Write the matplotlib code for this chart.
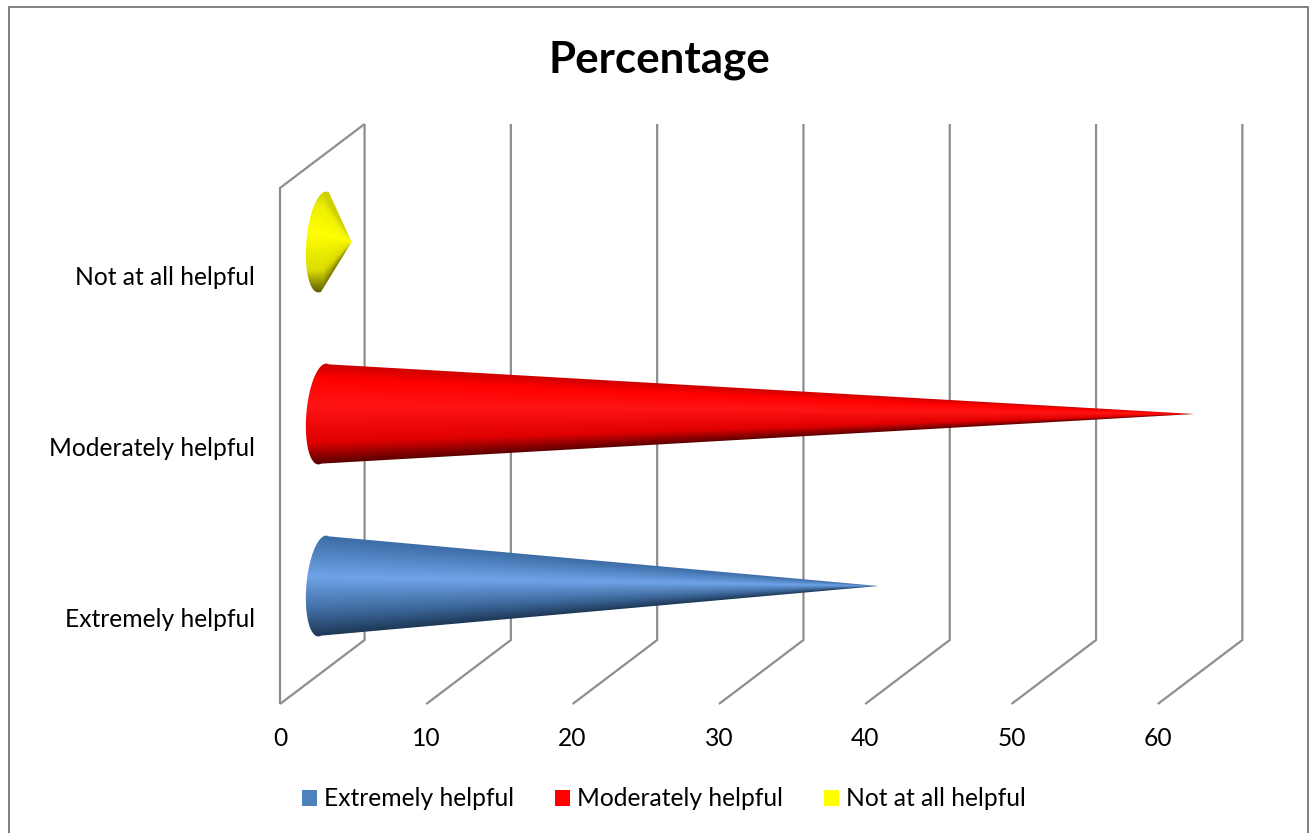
import matplotlib
matplotlib.use('Agg')
import matplotlib.pyplot as plt
import numpy as np
from matplotlib.colors import LinearSegmentedColormap
from matplotlib.lines import Line2D
from matplotlib.patches import Patch
from matplotlib.path import Path

plt.rcParams['font.family'] = ['Lato', 'DejaVu Sans']

categories = ['Extremely helpful', 'Moderately helpful', 'Not at all helpful']
values = [38.0, 59.6, 2.0]
ticks = [0, 10, 20, 30, 40, 50, 60]
bar_colors = ['#4f81bd', '#ff0000', '#ffff00']

# cone shading from the lower edge up to the upper edge
shade_stops = [0, 0.22, 0.59, 0.85, 1]
shades = [
    ['#1c3654', '#3b6597', '#6ea4e8', '#4e80bd', '#3c6ca6'],
    ['#560000', '#e00000', '#ff1414', '#ff0000', '#cc0000'],
    ['#5e5e00', '#dcdc00', '#ffff00', '#f0f000', '#d0d000'],
]

GRID = '#8e8e8e'
DEPTH_X = 5.78
DEPTH_Y = 0.372
CONE_HALF_H = 0.293
CONE_HALF_W = 1.09
CONE_SHEAR = 0.27

fig = plt.figure(figsize=(13.09, 8.33), dpi=100)
ax = fig.add_axes([0, 0, 1, 1])
ax.set_xlim(-280 / 14.63, (1309 - 280) / 14.63)
ax.set_ylim((618 - 833) / 172, 618 / 172)
ax.autoscale(False)
ax.axis('off')

# chart border, the bottom edge runs off the page
fig.add_artist(Line2D([9 / 1309, 9 / 1309, 1308 / 1309, 1308 / 1309],
                      [0, 1 - 7 / 833, 1 - 7 / 833, 0],
                      transform=fig.transFigure, color='#808080', lw=1.4,
                      solid_joinstyle='miter'))

y0, y1 = -0.5, 2.5

# floor and back wall lines
for t in ticks:
    ax.plot([t, t + DEPTH_X, t + DEPTH_X], [y0, y0 + DEPTH_Y, y1 + DEPTH_Y],
            color=GRID, lw=1.6, solid_joinstyle='miter', solid_capstyle='butt')
    ax.text(t, y0 - 0.198, str(t), ha='center', va='center', fontsize=17.7)

# side wall
ax.plot([0, 0, DEPTH_X], [y0, y1, y1 + DEPTH_Y], color=GRID, lw=1.6,
        solid_joinstyle='miter', solid_capstyle='butt')


def draw_cone(value, pos, colors):
    cx = DEPTH_X / 2
    cy = pos + DEPTH_Y / 2
    tip = (cx + value, cy)
    cmap = LinearSegmentedColormap.from_list('cone', list(zip(shade_stops, colors)))

    # shade by the fraction of the local radius so the bands meet at the tip
    x_min, x_max = cx - CONE_HALF_W - 0.1, tip[0] + 0.1
    y_min, y_max = cy - CONE_HALF_H - 0.02, cy + CONE_HALF_H + 0.02
    gx, gy = np.meshgrid(np.linspace(x_min, x_max, 900),
                         np.linspace(y_min, y_max, 300))
    taper = np.clip(1 - (gx - cx) / value, 0.002, 1)
    s = np.clip((gy - cy) / (CONE_HALF_H * taper), -1, 1)
    im = ax.imshow((s + 1) / 2, cmap=cmap, vmin=0, vmax=1, origin='lower',
                   extent=(x_min, x_max, y_min, y_max), aspect='auto',
                   interpolation='bilinear', zorder=3)

    theta = np.radians(np.linspace(-100, 100, 121))
    bx = cx - CONE_HALF_W * np.cos(theta) + CONE_SHEAR * np.sin(theta)
    by = cy + CONE_HALF_H * np.sin(theta)
    outline = np.vstack([np.column_stack([bx, by]), tip, [bx[0], by[0]]])
    im.set_clip_path(Path(outline), ax.transData)


for i, name in enumerate(categories):
    draw_cone(values[i], i, shades[i])
    ax.text(-1.71, i * 0.994 - 0.006, name, ha='right', va='center', fontsize=17.7)

ax.text((659 - 280) / 14.63, (618 - 60) / 172, 'Percentage', ha='center',
        va='center', fontsize=31.7, fontweight='bold')

handles = [Patch(facecolor=c, edgecolor='none') for c in bar_colors]
fig.legend(handles, categories, ncol=3, loc='center', frameon=False,
           bbox_to_anchor=(664 / 1309, 1 - 799 / 833), fontsize=17.7,
           handlelength=0.61, handleheight=0.61, handletextpad=0.28,
           columnspacing=1.67)

fig.savefig('out.png', dpi=100)
